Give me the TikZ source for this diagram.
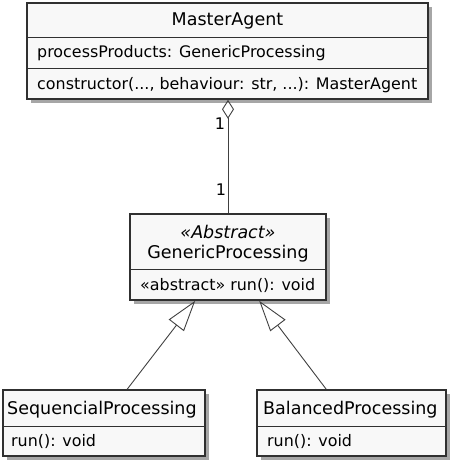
\documentclass[tikz,border=0pt]{standalone}
\usepackage{fontspec}
\setmainfont{DejaVu Sans}
\usetikzlibrary{arrows.meta,shadows}
\definecolor{boxfill}{HTML}{F8F8F8}
\definecolor{boxline}{HTML}{303030}
\definecolor{conline}{HTML}{404040}
\tikzset{
  classbox/.style={draw=boxline, line width=1.6pt, fill=boxfill, rectangle, inner sep=0pt,
    drop shadow={shadow xshift=4pt, shadow yshift=-4pt, fill=black, opacity=0.35}},
  divider/.style={draw=boxline, line width=1pt},
  cname/.style={font=\fontsize{17.5}{20}\selectfont, inner sep=0pt, text=black},
  cmember/.style={font=\fontsize{15.9}{18}\selectfont, inner sep=0pt, anchor=west, text=black},
  mult/.style={font=\fontsize{16}{18}\selectfont, inner sep=0pt, text=black},
  conn/.style={draw=conline, line width=0.9pt},
}
\begin{document}
\begin{tikzpicture}[x=1pt,y=-1pt]
\useasboundingbox (0,0) rectangle (456,468);
% boxes
\node[classbox, minimum width=401pt, minimum height=96pt] (MA) at (227.5,51) {};
\node[classbox, minimum width=196pt, minimum height=86pt] (GP) at (228,257) {};
\node[classbox, minimum width=202pt, minimum height=66pt] (SP) at (104,423) {};
\node[classbox, minimum width=189pt, minimum height=66pt] (BP) at (351.5,423) {};
% dividers
\draw[divider] (MA.west |- 0,38) -- (MA.east |- 0,38);
\draw[divider] (MA.west |- 0,69) -- (MA.east |- 0,69);
\draw[divider] (GP.west |- 0,269) -- (GP.east |- 0,269);
\draw[divider] (SP.west |- 0,426) -- (SP.east |- 0,426);
\draw[divider] (BP.west |- 0,426) -- (BP.east |- 0,426);
% texts
\node[cname] (maName) at (227.5,21) {MasterAgent};
\node[cmember] (maAttr) at (37,53) {processProducts: GenericProcessing};
\node[cmember] (maOp) at (37,85) {constructor(..., behaviour: str, ...): MasterAgent};
\node[cname] (gpSt) at (228,232) {\itshape «Abstract»};
\node[cname] (gpName) at (228,254) {GenericProcessing};
\node[cmember] (gpOp) at (140,286) {«abstract» run(): void};
\node[cname, anchor=west] (spName) at (7,410) {SequencialProcessing};
\node[cmember] (spOp) at (11,442) {run(): void};
\node[cname, anchor=west] (bpName) at (263,410) {BalancedProcessing};
\node[cmember] (bpOp) at (267,442) {run(): void};
% connectors
\draw[conn, {Diamond[open, length=19pt, width=12pt, line width=0.9pt]}-] (GP.north |- MA.south) -- (GP.north);
\node[mult] (m1) at (220,124) {1};
\node[mult] (m2) at (221,190) {1};
\draw[conn, -{Triangle[open, length=31pt, width=19pt, line width=0.9pt]}] ([xshift=125pt]SP.north west) -- ([xshift=66pt]GP.south west);
\draw[conn, -{Triangle[open, length=31pt, width=19pt, line width=0.9pt]}] ([xshift=70pt]BP.north west) -- ([xshift=130pt]GP.south west);
\end{tikzpicture}
\end{document}
